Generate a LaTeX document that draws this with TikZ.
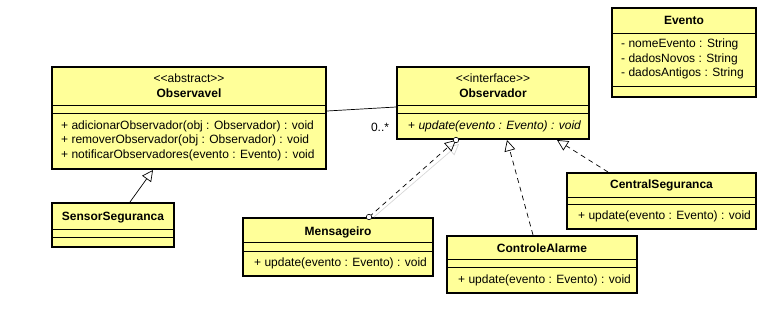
\documentclass[tikz,border=0pt]{standalone}
\usepackage{fontspec}
\setmainfont{Liberation Sans}
\usetikzlibrary{arrows.meta}
\definecolor{classyellow}{RGB}{255,255,153}
\definecolor{ghostgray}{RGB}{215,215,215}

\begin{document}
\begin{tikzpicture}[
    x=1pt, y=-1pt,
    font=\fontsize{12}{14}\selectfont,
    cls/.style={rectangle, draw, line width=2pt, fill=classyellow, inner sep=0pt},
    sep/.style={line width=0.9pt},
    title/.style={font=\fontsize{12}{14}\selectfont\bfseries, inner sep=0pt},
    stereo/.style={inner sep=0pt},
    member/.style={anchor=west, inner sep=0pt},
    inherit/.style={-{Triangle[open, length=11pt, width=11pt]}, line width=0.7pt},
    realize/.style={inherit, dashed, dash pattern=on 5pt off 4pt},
    ghost/.style={inherit, draw=ghostgray},
    endpoint/.style={circle, draw, fill=white, inner sep=0pt, minimum size=5.5pt, line width=0.6pt}
]
\useasboundingbox (0,0) rectangle (778,309);

% Class boxes
\node[cls, minimum width=274pt, minimum height=102pt] (observavel) at (189,118) {};
\node[cls, minimum width=192pt, minimum height=72pt] (observador) at (493,103) {};
\node[cls, minimum width=144pt, minimum height=89pt] (evento) at (684,52.5) {};
\node[cls, minimum width=122pt, minimum height=44pt] (sensor) at (113,225) {};
\node[cls, minimum width=190pt, minimum height=58pt] (mensageiro) at (338,247) {};
\node[cls, minimum width=190pt, minimum height=57pt] (controle) at (542,264.5) {};
\node[cls, minimum width=189pt, minimum height=56pt] (central) at (661.5,201) {};

% Observavel
\node[stereo] (observavelst) at (189,78) {<{}<abstract>{}>};
\node[title] (observavelnm) at (189,93) {Observavel};
\draw[sep] (observavel.west |- 0,105) -- (observavel.east |- 0,105);
\draw[sep] (observavel.west |- 0,113) -- (observavel.east |- 0,113);
\node[member] (addobs) at (61,126) {+ adicionarObservador(obj : Observador) : void};
\node[member] (remobs) at (61,140) {+ removerObservador(obj : Observador) : void};
\node[member] (notobs) at (61,155) {+ notificarObservadores(evento : Evento) : void};

% Observador
\node[stereo] (observadorst) at (493,78) {<{}<interface>{}>};
\node[title] (observadornm) at (493,93) {Observador};
\draw[sep] (observador.west |- 0,105) -- (observador.east |- 0,105);
\draw[sep] (observador.west |- 0,113) -- (observador.east |- 0,113);
\node[member] (updobs) at (408,126) {+ \itshape update(evento : Evento) : void};

% Evento
\node[title] (eventonm) at (684,20) {Evento};
\draw[sep] (evento.west |- 0,33) -- (evento.east |- 0,33);
\node[member] (nome) at (621,44) {- nomeEvento : String};
\node[member] (novos) at (621,59) {- dadosNovos : String};
\node[member] (antigos) at (621,73) {- dadosAntigos : String};
\draw[sep] (evento.west |- 0,86) -- (evento.east |- 0,86);

% SensorSeguranca
\node[title] (sensornm) at (113,218) {SensorSeguranca};
\draw[sep] (sensor.west |- 0,229) -- (sensor.east |- 0,229);
\draw[sep] (sensor.west |- 0,237) -- (sensor.east |- 0,237);

% Mensageiro
\node[title] (mensageironm) at (338,232) {Mensageiro};
\draw[sep] (mensageiro.west |- 0,242) -- (mensageiro.east |- 0,242);
\draw[sep] (mensageiro.west |- 0,251) -- (mensageiro.east |- 0,251);
\node[member] (updmsg) at (254,263) {+ update(evento : Evento) : void};

% ControleAlarme
\node[title] (controlenm) at (542,248) {ControleAlarme};
\draw[sep] (controle.west |- 0,259) -- (controle.east |- 0,259);
\draw[sep] (controle.west |- 0,267) -- (controle.east |- 0,267);
\node[member] (updctl) at (458,280) {+ update(evento : Evento) : void};

% CentralSeguranca
\node[title] (centralnm) at (661.5,185) {CentralSeguranca};
\draw[sep] (central.west |- 0,197) -- (central.east |- 0,197);
\draw[sep] (central.west |- 0,204) -- (central.east |- 0,204);
\node[member] (updcen) at (578,216) {+ update(evento : Evento) : void};

% Association
\draw[line width=0.7pt] ([yshift=7pt]observavel.east) -- ([yshift=-4pt]observador.west);
\node (mult) at (380,127) {0..*};

% Generalization
\draw[inherit] ([xshift=17pt]sensor.north) -- ([xshift=-36pt]observavel.south);

% Realizations
\draw[ghost] ([xshift=36pt]mensageiro.north) -- ([xshift=-34pt,yshift=-4pt]observador.south);
\draw[realize] ([xshift=31pt]mensageiro.north) -- ([xshift=-37pt]observador.south);
\draw[realize] ([xshift=-9pt]controle.north) -- ([xshift=14pt]observador.south);
\draw[realize] ([xshift=-53.5pt]central.north) -- ([xshift=64pt]observador.south);
\node[endpoint] (msgend) at ([xshift=31pt]mensageiro.north) {};
\node[endpoint] (obsend) at ([xshift=-37pt]observador.south) {};
\end{tikzpicture}
\end{document}
